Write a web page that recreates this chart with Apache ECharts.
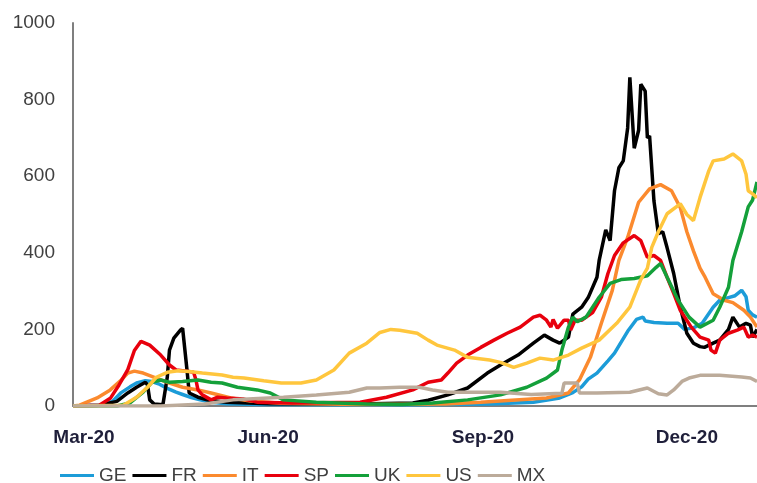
<!DOCTYPE html>
<html>
<head>
<meta charset="utf-8">
<script src="https://cdn.jsdelivr.net/npm/echarts@6.0.0/dist/echarts.min.js"></script>
<style>
    html, body { margin: 0; padding: 0; background: #fff; }
    #chart { width: 757px; height: 483px; }
</style>
</head>
<body>
<div id="chart"></div>
<script>
// x values are days counted from the left edge of the plot (early Mar 2020)
const tickDays = [5, 89, 187, 280];
const tickLabels = ['Mar-20', 'Jun-20', 'Sep-20', 'Dec-20'];

const GE = [[0,0],[12,2],[18,12],[22,35],[26,50],[29,60],[33,66],[36,64],[39,58],[43,46],[47,36],[50,30],[54,22],[58,16],[63,10],[70,6],[85,4],[120,3],[160,3],[190,5],[210,10],[222,21],[228,35],[232,50],[235,70],[239,86],[244,118],[247,138],[253,195],[257,226],[260,232],[261,222],[265,218],[271,216],[276,216],[279,200],[283,204],[287,216],[292,258],[295,276],[299,283],[302,288],[305,302],[307,285],[308,250],[310,238],[312,232]];
const FR = [[0,0],[12,2],[20,12],[25,34],[29,49],[33,62],[34,55],[35,16],[37,5],[41,3],[43,75],[44,146],[46,177],[49,198],[50,203],[52,94],[53,34],[57,23],[62,15],[70,10],[90,6],[130,5],[155,8],[162,15],[171,29],[180,47],[189,86],[195,107],[203,133],[210,164],[215,185],[219,172],[222,164],[226,180],[228,240],[232,258],[235,283],[239,336],[240,380],[243,460],[245,432],[247,562],[249,622],[251,640],[253,726],[254,858],[256,673],[258,720],[259,840],[261,822],[262,700],[263,705],[265,535],[267,450],[269,455],[271,413],[274,346],[277,258],[280,190],[283,164],[286,155],[288,153],[292,164],[295,172],[299,200],[301,232],[304,206],[307,216],[309,211],[310,180],[312,200]];
const IT = [[0,0],[3,2],[11,21],[17,42],[22,68],[25,86],[28,91],[32,86],[38,73],[44,60],[50,49],[57,42],[63,34],[72,21],[81,13],[95,7],[130,4],[170,5],[186,10],[216,21],[226,34],[231,68],[236,127],[241,216],[246,302],[249,380],[253,440],[258,532],[263,567],[268,578],[273,562],[277,518],[280,455],[283,405],[286,360],[288,340],[292,293],[297,276],[301,270],[306,250],[309,232],[312,206]];
const SP = [[0,0],[12,2],[17,20],[21,55],[25,95],[28,145],[31,169],[35,159],[40,133],[44,107],[47,94],[52,91],[55,88],[56,70],[57,42],[59,29],[63,16],[66,23],[70,21],[78,18],[84,10],[100,8],[131,10],[143,23],[155,42],[162,62],[168,68],[171,86],[175,112],[180,133],[186,153],[192,172],[198,190],[204,206],[210,232],[213,237],[216,224],[218,206],[219,226],[221,203],[224,224],[226,224],[227,198],[229,224],[232,224],[237,244],[241,284],[244,346],[247,393],[251,426],[256,445],[259,432],[262,388],[265,393],[268,380],[271,336],[274,294],[277,250],[282,206],[286,180],[290,172],[291,146],[293,138],[295,172],[299,190],[303,198],[306,206],[308,180],[310,185],[312,180]];
const UK = [[0,0],[20,0],[26,8],[32,36],[36,62],[40,68],[44,62],[50,64],[57,68],[63,62],[68,60],[75,49],[84,42],[90,34],[96,16],[111,10],[134,5],[150,4],[164,8],[180,16],[195,29],[207,49],[216,73],[221,94],[223,146],[226,206],[228,232],[230,220],[234,232],[240,284],[245,320],[250,330],[256,333],[262,340],[266,362],[268,372],[271,336],[276,276],[281,232],[286,206],[292,224],[295,258],[299,310],[301,380],[305,455],[308,520],[310,538],[312,585]];
const US = [[0,0],[23,2],[29,23],[34,49],[38,75],[43,88],[48,92],[53,90],[59,86],[68,81],[73,75],[78,73],[87,66],[95,60],[104,60],[111,68],[119,94],[126,138],[134,164],[140,192],[145,200],[149,198],[157,190],[162,172],[166,159],[174,146],[180,127],[190,120],[195,114],[201,101],[207,112],[213,125],[219,120],[226,133],[232,151],[240,172],[248,216],[254,258],[259,330],[262,360],[264,414],[267,455],[271,502],[277,528],[280,500],[283,484],[286,544],[290,614],[292,640],[297,645],[301,658],[305,640],[307,605],[308,562],[310,554],[312,544]];
const MX = [[0,0],[40,0],[60,5],[73,16],[96,23],[111,29],[126,36],[134,47],[140,47],[149,49],[158,49],[164,42],[171,36],[186,36],[195,36],[209,30],[223,33],[224,60],[230,60],[231,34],[239,34],[254,36],[262,47],[267,32],[271,29],[274,42],[278,65],[281,73],[286,80],[295,80],[305,76],[309,73],[312,64]];

const seriesNames = ['GE', 'FR', 'IT', 'SP', 'UK', 'US', 'MX'];
const seriesData = [GE, FR, IT, SP, UK, US, MX];
const colors = ['#1c9cd8', '#000000', '#fb8a2e', '#e8000d', '#14a03a', '#ffc63d', '#bcab9a'];

const chart = echarts.init(document.getElementById('chart'));

chart.setOption({
    animation: false,
    color: colors,
    grid: {
        left: 73,
        right: 0,
        top: 23,
        bottom: 77
    },
    legend: {
        data: seriesNames,
        left: 55,
        top: 461,
        icon: 'rect',
        itemWidth: 34,
        itemHeight: 3,
        itemGap: 6,
        textStyle: {
            fontFamily: '"Liberation Sans", Arial, sans-serif',
            fontSize: 19,
            color: '#404040'
        }
    },
    xAxis: {
        type: 'value',
        min: 0,
        max: 312,
        axisLine: {
            lineStyle: { color: '#7f7f7f', width: 2 }
        },
        axisTick: { show: false },
        splitLine: { show: false },
        axisLabel: {
            customValues: tickDays,
            formatter: (val) => tickLabels[tickDays.indexOf(val)],
            margin: 22,
            fontFamily: '"Liberation Sans", Arial, sans-serif',
            fontWeight: 'bold',
            fontSize: 19,
            color: '#1f1f3a'
        }
    },
    yAxis: {
        type: 'value',
        min: 0,
        max: 1000,
        interval: 200,
        axisLine: {
            show: true,
            lineStyle: { color: '#7f7f7f', width: 2 }
        },
        axisTick: { show: false },
        splitLine: { show: false },
        axisLabel: {
            margin: 18,
            formatter: (val) => String(val),
            fontFamily: '"Liberation Sans", Arial, sans-serif',
            fontSize: 19,
            color: '#404040'
        }
    },
    series: seriesNames.map((name, i) => ({
        name: name,
        type: 'line',
        data: seriesData[i],
        showSymbol: false,
        symbol: 'none',
        lineStyle: { width: 3.5, color: colors[i] }
    }))
});
</script>
</body>
</html>
